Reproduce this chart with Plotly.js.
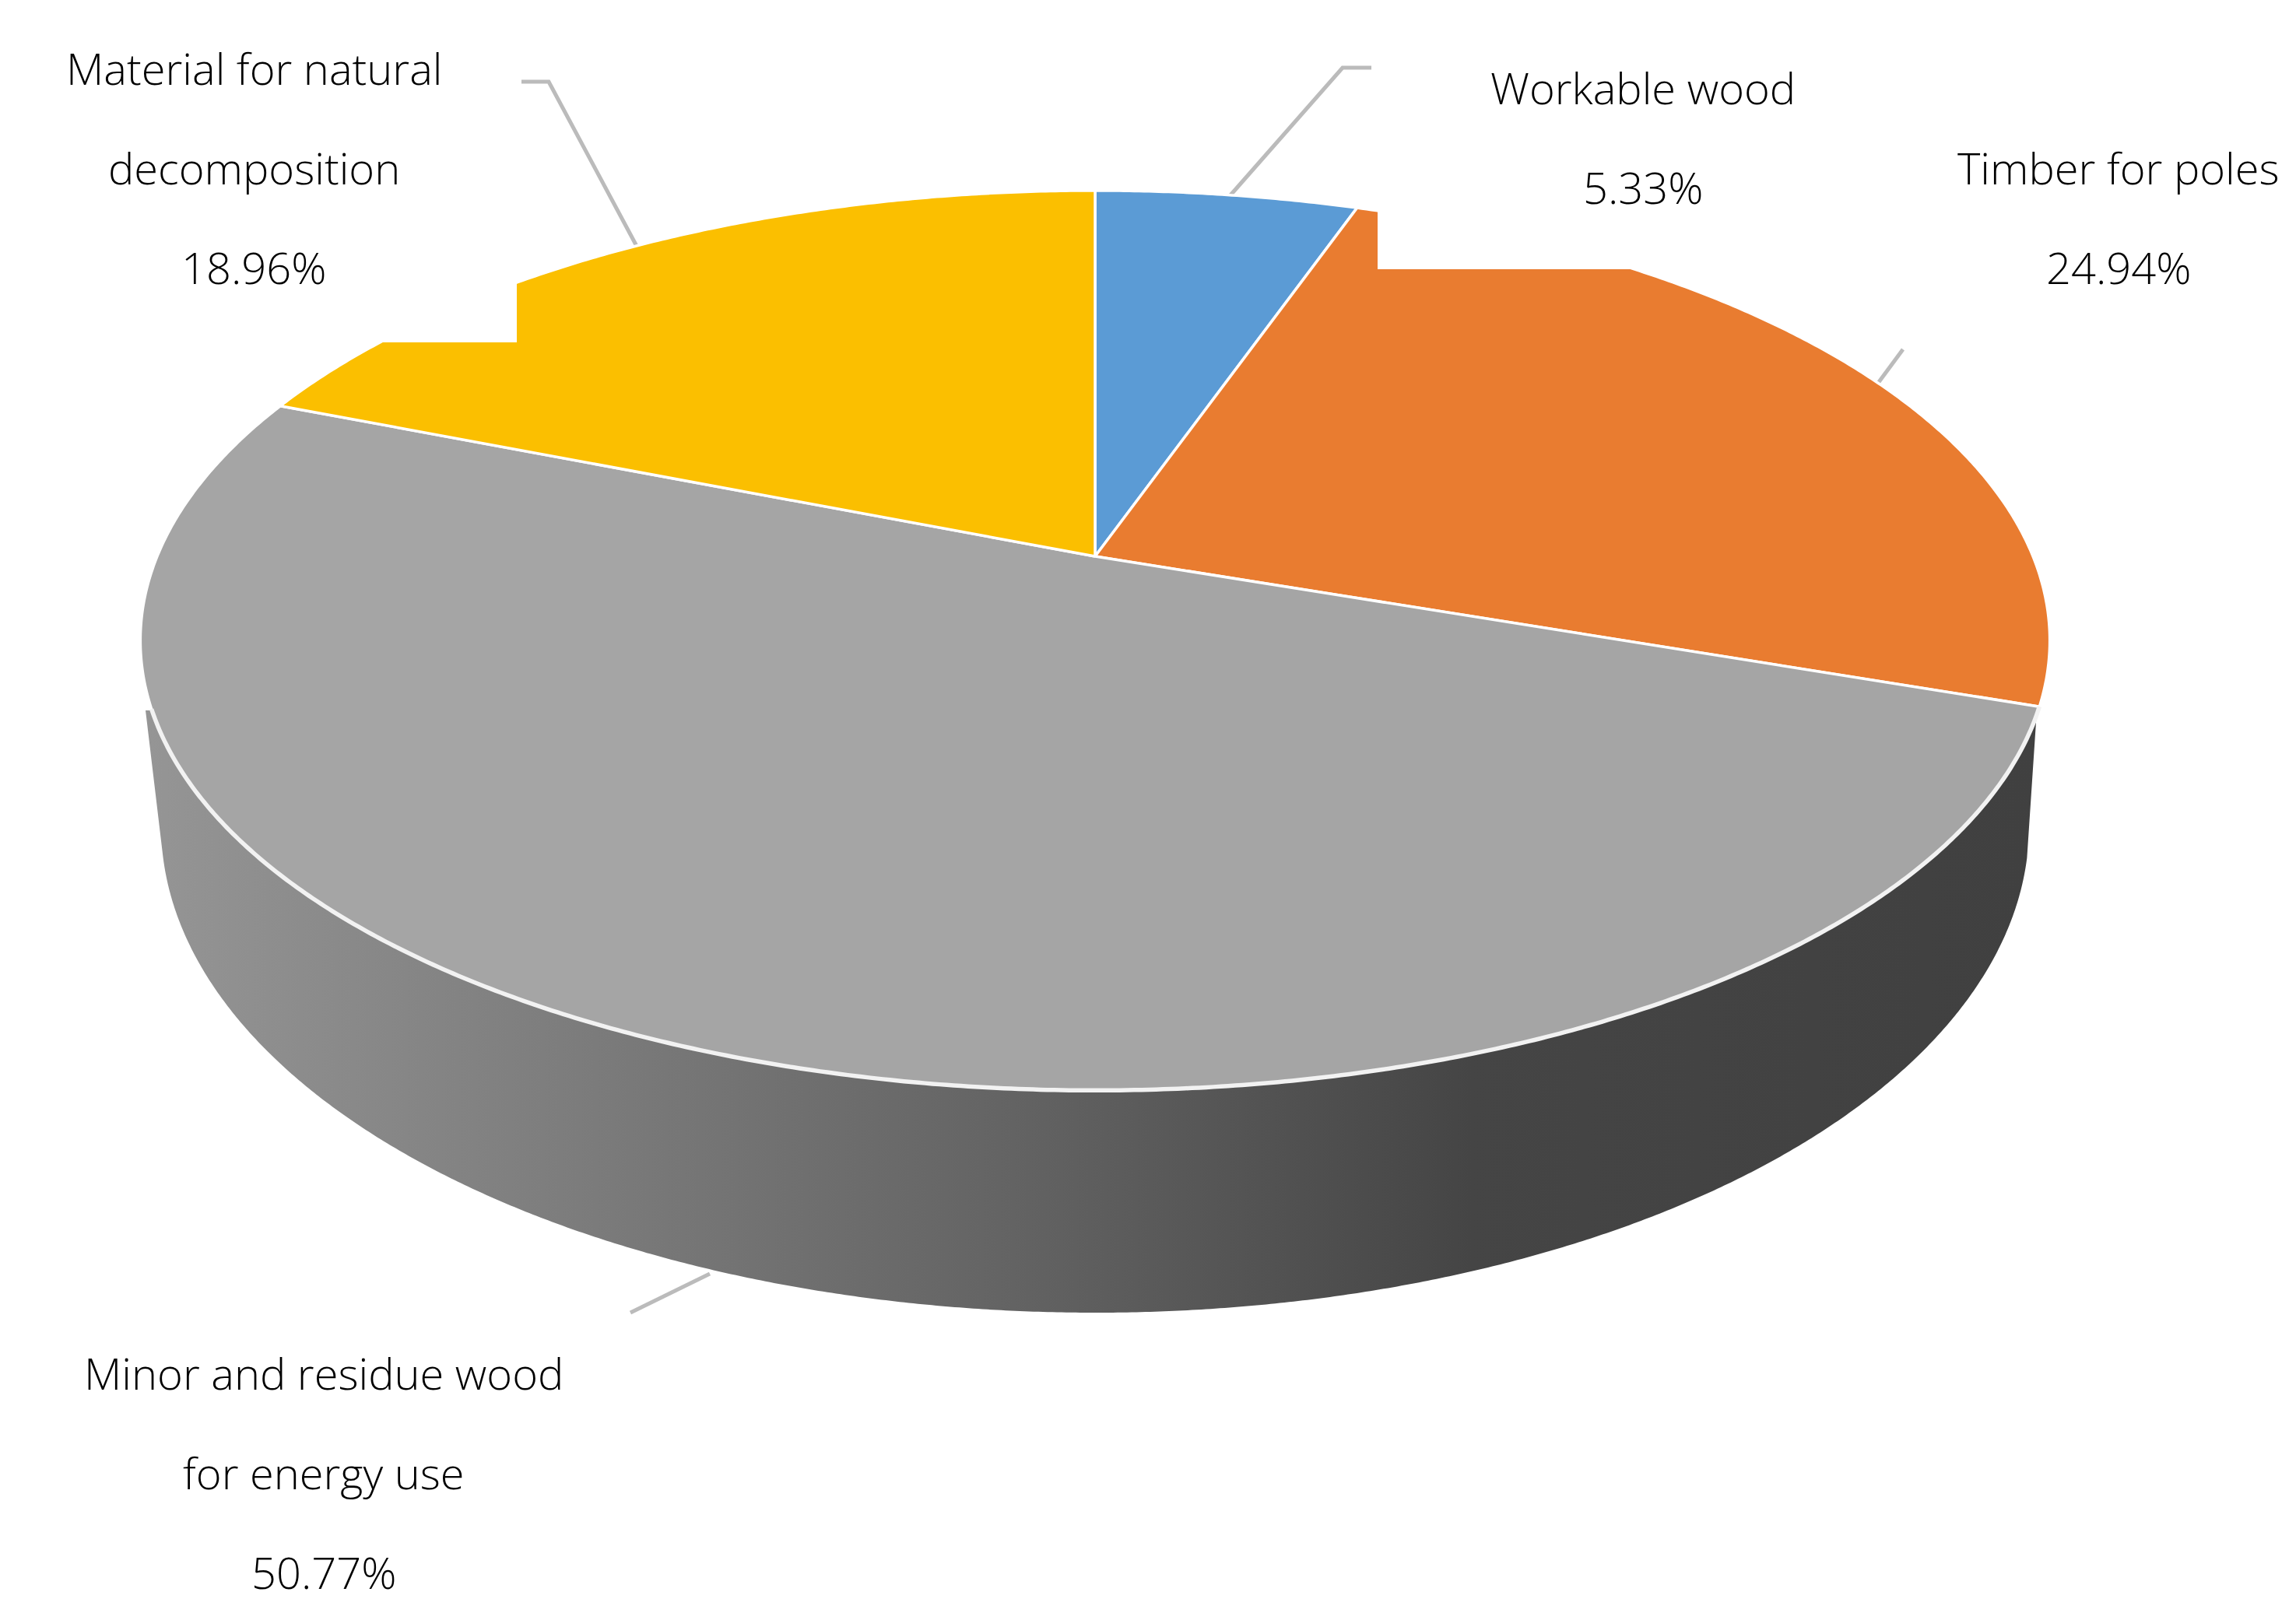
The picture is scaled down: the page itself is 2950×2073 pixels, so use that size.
<!DOCTYPE html>
<html>
<head>
<meta charset="utf-8">
<script src="https://cdn.plot.ly/plotly-3.0.1.min.js"></script>
<style>
  html, body { margin: 0; padding: 0; background: #fff; }
  #chart { width: 2950px; height: 2073px; }
</style>
</head>
<body>
<div id="chart"></div>
<script>
  var categories = ["Workable wood", "Timber for poles", "Minor and residue wood for energy use", "Material for natural decomposition"];
  var shares = [5.33, 24.94, 50.77, 18.96];
  var sliceColors = ["#5B9BD5", "#E97C30", "#A5A5A5", "#FBBF00"];

  var labelLines = [
    ["Workable wood", "5.33%"],
    ["Timber for poles", "24.94%"],
    ["Minor and residue wood", "for energy use", "50.77%"],
    ["Material for natural", "decomposition", "18.96%"]
  ];
  var labelX = [2111, 2722, 416, 326];
  var labelY = [112, 215, 1764, 87];
  var lineGap = 128;

  // pie plane seen in perspective, apex sits above the middle of the ellipse
  var apexX = 1407, apexY = 715;
  var persp = 0.187, scaleX = 1205, scaleY = 558;

  function project(frac) {
    var a = frac * 2 * Math.PI;
    var X = Math.sin(a), Y = Math.cos(a);
    var w = 1 + persp * Y;
    return [apexX + scaleX * X / w, apexY - scaleY * Y / w];
  }

  var total = shares.reduce(function (s, v) { return s + v; }, 0);
  var traces = [];

  // side wall of the disc
  var wallX = [187], wallY = [913];
  for (var t = 0.065; t <= Math.PI - 0.065; t += 0.005) {
    wallX.push(1407 - 1200 * Math.cos(t));
    wallY.push(1061 + 626 * Math.sin(t));
  }
  wallX.push(2617); wallY.push(913);
  traces.push({
    x: wallX, y: wallY, mode: "lines", fill: "toself", hoverinfo: "skip",
    line: { width: 0, color: "#666666", simplify: false },
    fillgradient: {
      type: "horizontal", start: 190, stop: 2620,
      colorscale: [[0, "#959595"], [0.2, "#7f7f7f"], [0.45, "#646464"], [0.7, "#454545"], [1, "#404040"]]
    }
  });

  var cum = 0;
  var seamX = [], seamY = [];
  shares.forEach(function (v, i) {
    var xs = [apexX], ys = [apexY];
    var from = cum / total, to = (cum + v) / total;
    var steps = Math.ceil((to - from) * 1000);
    for (var k = 0; k <= steps; k++) {
      var p = project(from + (to - from) * k / steps);
      xs.push(p[0]); ys.push(p[1]);
      // light seam only where the gray slice meets the wall
      if (i === 2 && p[1] >= 908) { seamX.push(p[0]); seamY.push(p[1]); }
    }
    xs.push(apexX); ys.push(apexY);
    traces.push({
      x: xs, y: ys, name: categories[i], mode: "lines", fill: "toself",
      fillcolor: sliceColors[i], hoverinfo: "name",
      line: { color: "#ffffff", width: 3.5, simplify: false }
    });
    cum += v;
  });
  traces.push({
    x: seamX, y: seamY, mode: "lines", hoverinfo: "skip",
    line: { color: "#f2f2f2", width: 5.5, simplify: false }
  });

  var annotations = [];
  labelLines.forEach(function (lines, i) {
    lines.forEach(function (txt, j) {
      annotations.push({
        x: labelX[i], y: labelY[i] + j * lineGap, text: txt,
        showarrow: false, xanchor: "center", yanchor: "middle",
        font: { family: "'Open Sans', sans-serif", size: 56, weight: 300, color: "#000000" }
      });
    });
  });

  function leader(path) {
    return { type: "path", path: path, layer: "below", line: { color: "#bbbbbb", width: 5 } };
  }

  var layout = {
    width: 2950, height: 2073,
    margin: { t: 0, b: 0, l: 0, r: 0 },
    paper_bgcolor: "#ffffff", plot_bgcolor: "#ffffff",
    showlegend: false,
    xaxis: { range: [0, 2950], visible: false, fixedrange: true },
    yaxis: { range: [2073, 0], visible: false, fixedrange: true },
    annotations: annotations,
    shapes: [
      leader("M1579,253 L1725,87 L1762,87"),
      leader("M2411,495 L2445,449"),
      leader("M912,1637 L810,1687"),
      leader("M820,320 L705,105 L670,105"),
      // white label backgrounds that bite into the slices
      { type: "rect", x0: 1770, x1: 2950, y0: 0, y1: 346, layer: "above", fillcolor: "#ffffff", line: { width: 0 } },
      { type: "rect", x0: 0, x1: 664, y0: 0, y1: 440, layer: "above", fillcolor: "#ffffff", line: { width: 0 } }
    ]
  };

  Plotly.newPlot("chart", traces, layout, { displayModeBar: false });
</script>
</body>
</html>
